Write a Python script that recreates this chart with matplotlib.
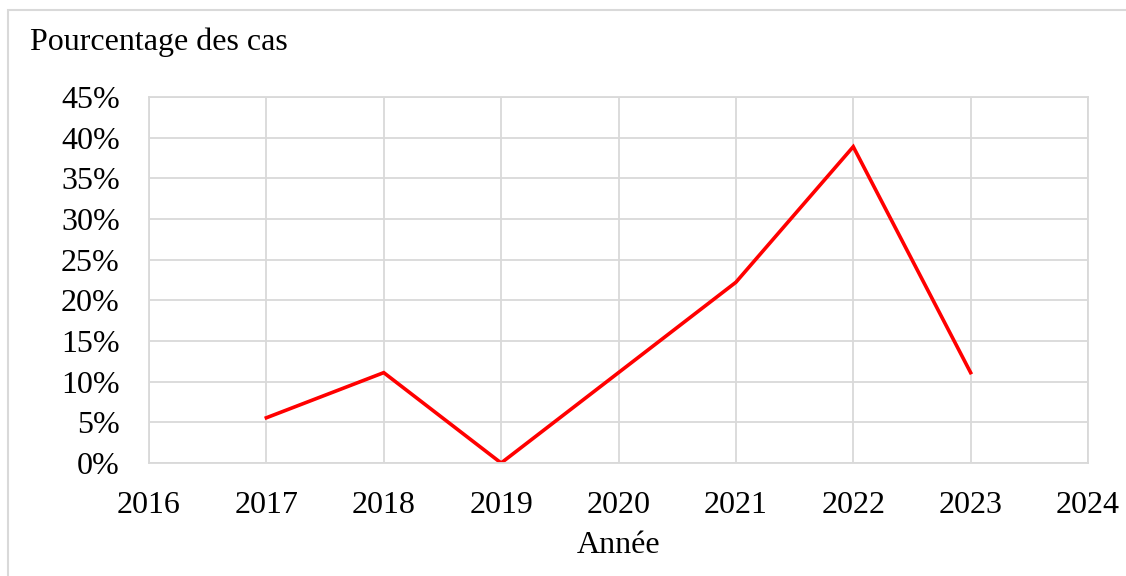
import matplotlib.pyplot as plt
from matplotlib.patches import Rectangle
from matplotlib.ticker import FuncFormatter, MultipleLocator

years = [2017, 2018, 2019, 2020, 2021, 2022, 2023]
pct = [5.56, 11.11, 0.0, 11.11, 22.22, 38.89, 11.11]

plt.rcParams['font.family'] = ['Liberation Serif', 'DejaVu Serif']
plt.rcParams['font.size'] = 23

fig = plt.figure(figsize=(11.26, 5.76), dpi=100)
# light frame around the chart area
fig.patches.append(Rectangle((8 / 1126, -0.01), 1.2, 1 - 10 / 576 + 0.01,
                             transform=fig.transFigure, fill=False,
                             edgecolor='#d9d9d9', linewidth=1.5))

ax = fig.add_axes([149 / 1126, 1 - 463 / 576, (1088 - 149) / 1126, (463 - 97) / 576])
ax.plot(years, pct, color='#ff0000', linewidth=2.6, solid_joinstyle='miter')

ax.set_xlim(2016, 2024)
ax.set_ylim(0, 45)
ax.xaxis.set_major_locator(MultipleLocator(1))
ax.yaxis.set_major_locator(MultipleLocator(5))
ax.yaxis.set_major_formatter(FuncFormatter(lambda v, p: f'{v:.0f}%'))
ax.grid(True, color='#d9d9d9', linewidth=1.3)
ax.set_axisbelow(True)
for s in ax.spines.values():
    s.set_color('#d9d9d9')
    s.set_linewidth(1.3)
ax.tick_params(length=0, colors='black')
ax.tick_params(axis='y', pad=21)
ax.tick_params(axis='x', pad=20)

ax.set_xlabel('Année', labelpad=8)
fig.text(30 / 1126, 1 - 42 / 576, 'Pourcentage des cas', ha='left', va='center')

fig.savefig('out.png', dpi=100)
